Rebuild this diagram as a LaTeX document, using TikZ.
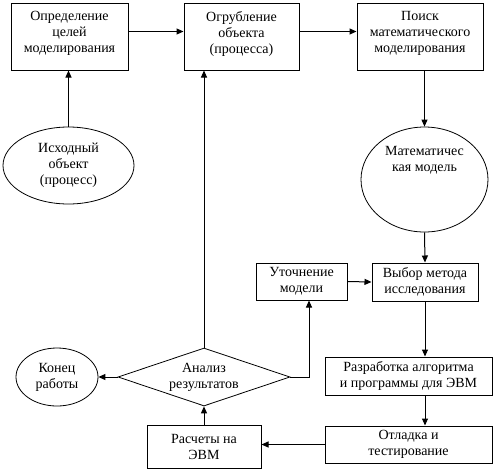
\documentclass[tikz,border=0pt]{standalone}
\usepackage{fontspec}
\setmainfont{Liberation Serif}
\usetikzlibrary{shapes.geometric,arrows.meta,calc}
\begin{document}
\begin{tikzpicture}[x=1pt,y=-1pt,
  every node/.style={font=\rmfamily\fontsize{14}{16}\selectfont, align=center, inner sep=0pt, line width=1pt},
  blk/.style={draw, rectangle},
  oval/.style={draw, ellipse, line width=0.8pt},
  rhomb/.style={draw, diamond, aspect=2.95, line width=0.8pt},
  lbl/.style={},
  arr/.style={line width=1pt, -{Triangle[length=7pt,width=6pt]}}]
\useasboundingbox (0,0) rectangle (495,472);
\node[blk, minimum width=117pt, minimum height=67pt] (b1) at (69.5,36.5) {};
\node[lbl] (b1t) at (69.5,33) {Определение\\целей\\моделирования};
\node[blk, minimum width=115pt, minimum height=67pt] (b2) at (241.5,36.5) {};
\node[lbl] (b2t) at (241.5,34) {Огрубление\\объекта\\(процесса)};
\node[blk, minimum width=126pt, minimum height=67pt] (b3) at (420,36.5) {};
\node[lbl] (b3t) at (420,33.5) {Поиск\\математического\\моделирования};
\node[oval, minimum width=131pt, minimum height=77pt] (iso) at (68.5,165.5) {Исходный\\объект\\(процесс)};
\node[oval, minimum width=127pt, minimum height=105pt] (mm) at (424.5,179.5) {};
\node[lbl] (mmt) at (424.5,160) {Математичес\\кая модель};
\node[blk, minimum width=91pt, minimum height=37pt] (ut) at (301.5,281.5) {Уточнение\\модели};
\node[blk, minimum width=106pt, minimum height=38pt] (vy) at (425,282) {Выбор метода\\исследования};
\node[blk, minimum width=167pt, minimum height=38pt] (rz) at (408.5,376) {Разработка алгоритма\\и программы для ЭВМ};
\node[rhomb, minimum width=172pt, minimum height=58pt] (an) at (204,377) {Анализ\\результатов};
\node[oval, minimum width=82pt, minimum height=58pt] (kn) at (57,377) {Конец\\работы};
\node[blk, minimum width=114pt, minimum height=43pt] (rs) at (204,446.5) {Расчеты на\\ЭВМ};
\node[blk, minimum width=167pt, minimum height=37pt] (ot) at (408.5,444.5) {Отладка и\\тестирование};
\draw[arr] (iso.north) -- (iso.north |- b1.south);
\draw[arr] ([yshift=5pt]b1.east) -- ([yshift=5pt]b2.west);
\draw[arr] ([yshift=5pt]b2.east) -- ([yshift=5pt]b3.west);
\draw[arr] (mm.north |- b3.south) -- (mm.north);
\draw[arr] (mm.south) -- (vy.north);
\draw[arr] (ut.east) -- (vy.west);
\draw[arr] (vy.south) -- (vy.south |- rz.north);
\draw[arr] (vy.south |- rz.south) -- (vy.south |- ot.north);
\draw[arr] (ot.west) -- (ot.west -| rs.east);
\draw[arr] (rs.north) -- (an.south);
\draw[arr] (an.north) -- (an.north |- b2.south);
\draw[arr] (an.west) -- (kn.east);
\draw[arr] (an.east) -| ([xshift=7.5pt]ut.south);
\end{tikzpicture}
\end{document}
